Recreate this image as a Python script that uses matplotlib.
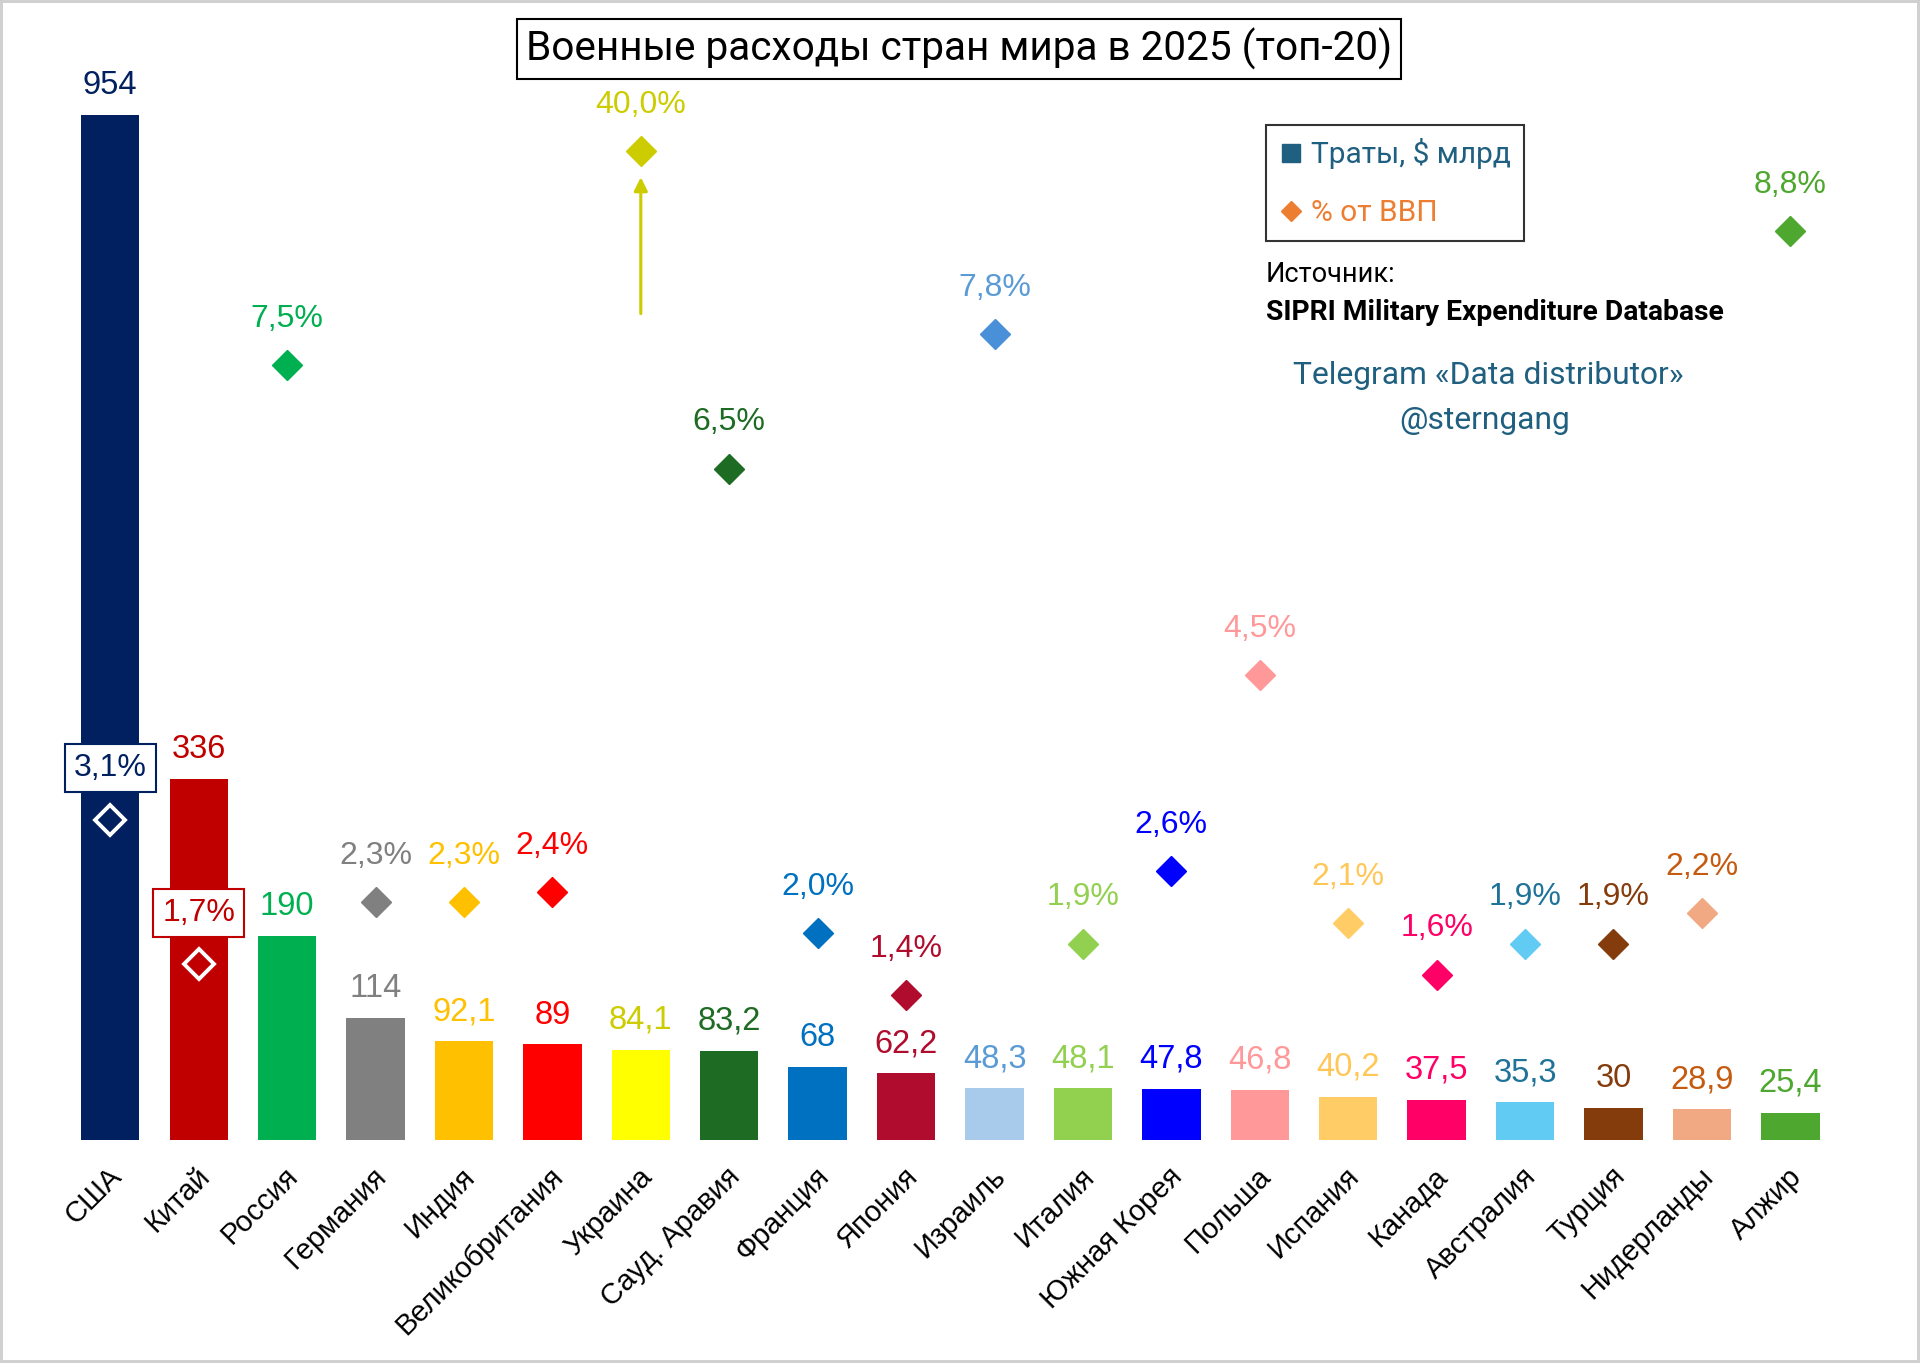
import matplotlib.pyplot as plt
import matplotlib.transforms as mtransforms
from matplotlib.lines import Line2D

# ---- данные ----
countries = ["США", "Китай", "Россия", "Германия", "Индия", "Великобритания",
             "Украина", "Сауд. Аравия", "Франция", "Япония", "Израиль", "Италия",
             "Южная Корея", "Польша", "Испания", "Канада", "Австралия", "Турция",
             "Нидерланды", "Алжир"]
spending = [954, 336, 190, 114, 92.1, 89, 84.1, 83.2, 68, 62.2,
            48.3, 48.1, 47.8, 46.8, 40.2, 37.5, 35.3, 30, 28.9, 25.4]
gdp_share = [3.1, 1.7, 7.5, 2.3, 2.3, 2.4, 40.0, 6.5, 2.0, 1.4,
             7.8, 1.9, 2.6, 4.5, 2.1, 1.6, 1.9, 1.9, 2.2, 8.8]

bar_colors = ["#002060", "#C00000", "#00B050", "#808080", "#FFC000", "#FF0000",
              "#FFFF00", "#1E6B24", "#0070C0", "#B00D2E", "#A9CBEB", "#92D050",
              "#0000FF", "#FF9999", "#FFCC66", "#FF0066", "#61CBF3", "#843C0C",
              "#F1A983", "#4EA72E"]
text_colors = ["#002060", "#C00000", "#00B050", "#808080", "#FFC000", "#FF0000",
               "#CCCC00", "#1E6B24", "#0070C0", "#B00D2E", "#5B9BD5", "#92D050",
               "#0000FF", "#FF9999", "#FFC757", "#FF0066", "#1F7399", "#843C0C",
               "#C55A11", "#4EA72E"]
marker_colors = ["white", "white", "#00B050", "#808080", "#FFC000", "#FF0000",
                 "#CCCC00", "#1E6B24", "#0070C0", "#B00D2E", "#4A90D9", "#92D050",
                 "#0000FF", "#FF9999", "#FFCC66", "#FF0066", "#61CBF3", "#843C0C",
                 "#F1A983", "#4EA72E"]

gdp_cap = 9.57          # выше этого значения ромб "упирается" в верх графика
boxed = [0, 1]          # ромбы внутри столбцов - подписи в рамке

label_font = "Liberation Sans"
note_font = "Roboto"

# ---- фигура ----
fig = plt.figure(figsize=(19.2, 13.63), dpi=100)
fig.patch.set_edgecolor("#D0D0D0")
fig.patch.set_linewidth(4)

ax = fig.add_axes([0.0344, 0.1636, 0.9211, 0.7882])
x = list(range(len(countries)))
ax.bar(x, spending, width=0.66, color=bar_colors)
ax.set_xlim(-0.5, len(countries) - 0.5)
ax.set_ylim(0, 1000)

for i, v in enumerate(spending):
    ax.annotate(f"{v:g}".replace(".", ","), (i, v), xytext=(0, 10),
                textcoords="offset points", ha="center", va="bottom",
                fontsize=23.5, color=text_colors[i], family=label_font)

ax2 = ax.twinx()
ax2.set_ylim(0, 10.40)

for i, v in enumerate(gdp_share):
    y = min(v, gdp_cap)
    lbl = f"{v:.1f}%".replace(".", ",")
    if i in boxed:
        ax2.plot(i, y, marker="D", markersize=15.5, markerfacecolor="none",
                 markeredgecolor="white", markeredgewidth=2.8, ls="none")
        ax2.annotate(lbl, (i, y), xytext=(0, 37), textcoords="offset points",
                     ha="center", va="center", fontsize=23, color=text_colors[i],
                     family=label_font,
                     bbox=dict(boxstyle="square,pad=0.28", fc="white",
                               ec=text_colors[i], lw=1.5))
    else:
        ax2.plot(i, y, marker="D", markersize=15.5, color=marker_colors[i],
                 ls="none")
        ax2.annotate(lbl, (i, y), xytext=(0, 22.5), textcoords="offset points",
                     ha="center", va="bottom", fontsize=23, color=text_colors[i],
                     family=label_font)

# стрелка для Украины (значение за пределами шкалы)
ukr = countries.index("Украина")
ax2.annotate("", xy=(ukr, 9.32), xytext=(ukr, 8.0),
             arrowprops=dict(arrowstyle="-|>", color=text_colors[ukr], lw=2.2,
                             mutation_scale=20, shrinkA=0, shrinkB=0))

# оси
ax.set_xticks(x)
ax.set_xticklabels(countries, rotation=45, ha="right", rotation_mode="anchor",
                   fontsize=21, family=label_font)
ax.tick_params(axis="x", length=0, pad=16)
ax.set_yticks([])
ax2.set_yticks([])
for a in (ax, ax2):
    for s in a.spines.values():
        s.set_visible(False)
offset = mtransforms.ScaledTranslation(-3 / 100, 0, fig.dpi_scale_trans)
for t in ax.get_xticklabels():
    t.set_transform(t.get_transform() + offset)

# заголовок
fig.text(0.4995, 1 - 49 / 1363, "Военные расходы стран мира в 2025 (топ-20)",
         ha="center", va="center", fontsize=29.2, family=note_font,
         bbox=dict(boxstyle="square,pad=0.22", fc="white", ec="black", lw=1.5))

# легенда
handles = [Line2D([], [], marker="s", ls="none", color="#1F5F80", markersize=13),
           Line2D([], [], marker="D", ls="none", color="#ED7D31", markersize=10)]
leg = fig.legend(handles, ["Траты, $ млрд", "% от ВВП"], loc="upper left",
                 bbox_to_anchor=(1266 / 1920, 1 - 125 / 1363), borderaxespad=0,
                 frameon=True, fancybox=False, edgecolor="black",
                 prop={"family": note_font, "size": 21.5},
                 labelcolor=["#1F5F80", "#ED7D31"], handletextpad=0.25,
                 handlelength=0.8, labelspacing=1.0, borderpad=0.45)
leg.get_frame().set_linewidth(1.5)

# источник и подпись
fig.text(1266 / 1920, 1 - 274 / 1363, "Источник:", ha="left", va="center",
         fontsize=19.5, family=note_font, color="black")
fig.text(1266 / 1920, 1 - 312 / 1363, "SIPRI Military Expenditure Database",
         ha="left", va="center", fontsize=20.3, family=note_font,
         fontweight="bold", color="black")
fig.text(1488 / 1920, 1 - 376 / 1363, "Telegram «Data distributor»",
         ha="center", va="center", fontsize=22.9, family=note_font, color="#1F5F80")
fig.text(1485 / 1920, 1 - 420 / 1363, "@sterngang",
         ha="center", va="center", fontsize=22.9, family=note_font, color="#1F5F80")

fig.savefig("out.png", dpi=100)
